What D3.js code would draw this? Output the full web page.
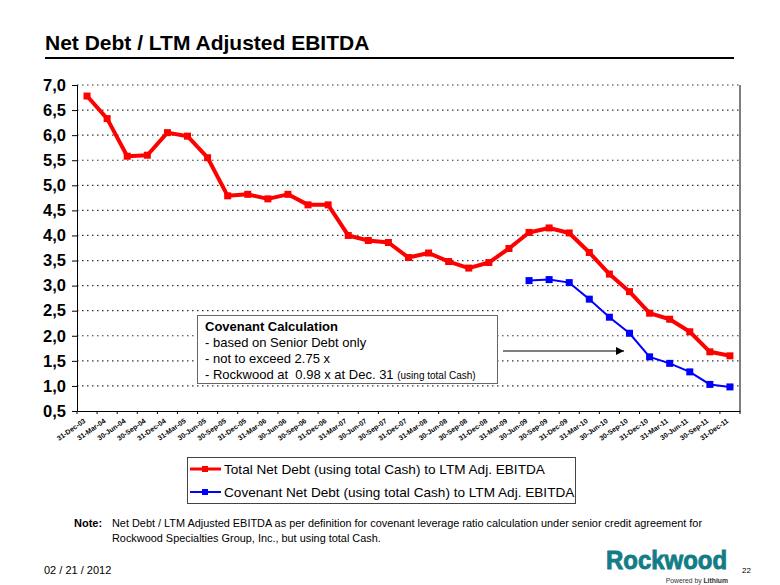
<!DOCTYPE html>
<html><head><meta charset="utf-8">
<script src="https://cdn.jsdelivr.net/npm/d3@7"></script>
<style>
body{margin:0;background:#fff;}
svg{display:block;font-family:"Liberation Sans",Arial,sans-serif;}
</style></head>
<body><svg id="c" width="780" height="585"></svg>
<script>
const categories = ["31-Dec-03","31-Mar-04","30-Jun-04","30-Sep-04","31-Dec-04","31-Mar-05","30-Jun-05","30-Sep-05","31-Dec-05","31-Mar-06","30-Jun-06","30-Sep-06","31-Dec-06","31-Mar-07","30-Jun-07","30-Sep-07","31-Dec-07","31-Mar-08","30-Jun-08","30-Sep-08","31-Dec-08","31-Mar-09","30-Jun-09","30-Sep-09","31-Dec-09","31-Mar-10","30-Jun-10","30-Sep-10","31-Dec-10","31-Mar-11","30-Jun-11","30-Sep-11","31-Dec-11"];
const totalNetDebt = [6.78,6.33,5.58,5.60,6.05,5.98,5.55,4.79,4.82,4.73,4.82,4.61,4.61,4.00,3.90,3.86,3.56,3.65,3.48,3.35,3.46,3.74,4.06,4.15,4.05,3.66,3.23,2.88,2.45,2.33,2.08,1.68,1.60];
const covenantCats = ["30-Jun-09","30-Sep-09","31-Dec-09","31-Mar-10","30-Jun-10","30-Sep-10","31-Dec-10","31-Mar-11","30-Jun-11","30-Sep-11","31-Dec-11"];
const covenantNetDebt = [3.10,3.12,3.06,2.73,2.37,2.05,1.58,1.45,1.28,1.03,0.98];
const yTicks = [0.5,1.0,1.5,2.0,2.5,3.0,3.5,4.0,4.5,5.0,5.5,6.0,6.5,7.0];
const seriesNames = ["Total Net Debt (using total Cash) to LTM Adj. EBITDA","Covenant Net Debt (using total Cash) to LTM Adj. EBITDA"];
const seriesColors = ["#ff0000","#0000ff"];
const boxLines = ["- based on Senior Debt only","- not to exceed 2.75 x"];

const svg = d3.select("#c");
const L=77,R=740,T=85,B=411;
const x = d3.scaleBand().domain(categories).range([L,R]);
const y = d3.scaleLinear().domain([0.5,7]).range([B,T]);
const cx = d => x(d)+x.bandwidth()/2;
const fmt = d => d3.format(".1f")(d).replace(".",",");

// title
svg.append("text").attr("x",45).attr("y",50).attr("font-size",21).attr("font-weight","bold").text("Net Debt / LTM Adjusted EBITDA");
svg.append("line").attr("x1",45).attr("x2",734).attr("y1",58).attr("y2",58).attr("stroke","#000").attr("stroke-width",2);

// grid
svg.append("g").selectAll("line").data(yTicks.filter(v=>v>0.5)).join("line")
  .attr("x1",L).attr("x2",R).attr("y1",d=>y(d)).attr("y2",d=>y(d))
  .attr("stroke","#333").attr("stroke-width",1.2).attr("stroke-dasharray","1.5,3.5");
svg.append("line").attr("x1",R).attr("x2",R).attr("y1",T).attr("y2",B).attr("stroke","#000");

// y axis
const ya = svg.append("g").attr("transform",`translate(${L},0)`)
  .call(d3.axisLeft(y).tickValues(yTicks).tickFormat(fmt).tickSize(5).tickPadding(6));
ya.select(".domain").attr("stroke","#000");
ya.selectAll("text").attr("font-size",16.5).attr("font-weight","bold").attr("font-family","Liberation Sans, Arial").attr("fill","#000");

// x axis
const xa = svg.append("g").attr("transform",`translate(0,${B})`)
  .call(d3.axisBottom(x).tickSize(0).tickFormat(""));
xa.select(".domain").attr("stroke","#000");
svg.append("g").selectAll("line").data(categories.concat([null])).join("line")
  .attr("x1",(d,i)=>L+i*x.bandwidth()).attr("x2",(d,i)=>L+i*x.bandwidth())
  .attr("y1",B).attr("y2",B+3).attr("stroke","#000");
svg.append("g").selectAll("text").data(categories).join("text")
  .attr("transform",d=>`translate(${cx(d)-1},${B+11}) rotate(-35)`)
  .attr("text-anchor","end").attr("font-size",7).attr("font-weight","bold").text(d=>d);

// lines
const line = d3.line().x(d=>cx(d[0])).y(d=>y(d[1]));
const red = categories.map((c,i)=>[c,totalNetDebt[i]]);
const blue = covenantCats.map((c,i)=>[c,covenantNetDebt[i]]);
svg.append("path").datum(red).attr("d",line).attr("fill","none").attr("stroke",seriesColors[0]).attr("stroke-width",4).attr("stroke-linejoin","round");
svg.append("g").selectAll("rect").data(red).join("rect")
  .attr("x",d=>cx(d[0])-3.5).attr("y",d=>y(d[1])-3.5).attr("width",7).attr("height",7).attr("fill",seriesColors[0]);
svg.append("path").datum(blue).attr("d",line).attr("fill","none").attr("stroke",seriesColors[1]).attr("stroke-width",2);
svg.append("g").selectAll("rect").data(blue).join("rect")
  .attr("x",d=>cx(d[0])-3.5).attr("y",d=>y(d[1])-3.5).attr("width",7).attr("height",7).attr("fill",seriesColors[1]);

// annotation box
svg.append("rect").attr("x",197.5).attr("y",315.5).attr("width",300).attr("height",68).attr("fill","#fff").attr("stroke","#666");
svg.append("text").attr("x",205).attr("y",331).attr("font-size",13).attr("font-weight","bold").text("Covenant Calculation");
boxLines.forEach((t,i)=>svg.append("text").attr("x",205).attr("y",347+i*16).attr("font-size",13).text(t));
const t3 = svg.append("text").attr("x",205).attr("y",379).attr("font-size",13).style("white-space","pre");
t3.append("tspan").text("- Rockwood at  0.98 x at Dec. 31 ");
t3.append("tspan").attr("font-size",10).text("(using total Cash)");

// arrow
svg.append("defs").append("marker").attr("id","ah").attr("viewBox","0 0 10 10").attr("refX",10).attr("refY",5)
  .attr("markerWidth",8).attr("markerHeight",8).attr("markerUnits","userSpaceOnUse").attr("orient","auto")
  .append("path").attr("d","M0,0L10,5L0,10z").attr("fill","#000");
svg.append("line").attr("x1",503).attr("x2",624).attr("y1",351).attr("y2",351).attr("stroke","#000").attr("stroke-width",1).attr("marker-end","url(#ah)");

// legend
svg.append("rect").attr("x",187.5).attr("y",457.5).attr("width",388).attr("height",46).attr("fill","#fff").attr("stroke","#444");
seriesNames.forEach((n,i)=>{
  const yy = 469+i*23;
  svg.append("line").attr("x1",190).attr("x2",221).attr("y1",yy).attr("y2",yy).attr("stroke",seriesColors[i]).attr("stroke-width",i==0?3:2);
  svg.append("rect").attr("x",202).attr("y",yy-3).attr("width",6).attr("height",6).attr("fill",seriesColors[i]);
  svg.append("text").attr("x",224).attr("y",yy+5).attr("font-size",13.6).text(n);
});

// note
svg.append("text").attr("x",74).attr("y",527).attr("font-size",11).attr("font-weight","bold").text("Note:");
svg.append("text").attr("x",112).attr("y",527).attr("font-size",10.9).text("Net Debt / LTM Adjusted EBITDA as per definition for covenant leverage ratio calculation under senior credit agreement for");
svg.append("text").attr("x",112).attr("y",542).attr("font-size",10.9).text("Rockwood Specialties Group, Inc., but using total Cash.");
svg.append("text").attr("x",44).attr("y",574).attr("font-size",11).text("02 / 21 / 2012");
svg.append("text").attr("x",742).attr("y",573).attr("font-size",8).text("22");
svg.append("text").attr("x",606).attr("y",569).attr("font-size",26).attr("font-weight","bold").attr("fill","#137d87")
  .attr("stroke","#137d87").attr("stroke-width",0.9)
  .attr("textLength",121).attr("lengthAdjust","spacingAndGlyphs").text("Rockwood");
const pw = svg.append("text").attr("x",728).attr("y",583).attr("text-anchor","end").attr("font-size",6.8).attr("fill","#333");
pw.append("tspan").text("Powered by ");
pw.append("tspan").attr("font-weight","bold").text("Lithium");
</script></body></html>
